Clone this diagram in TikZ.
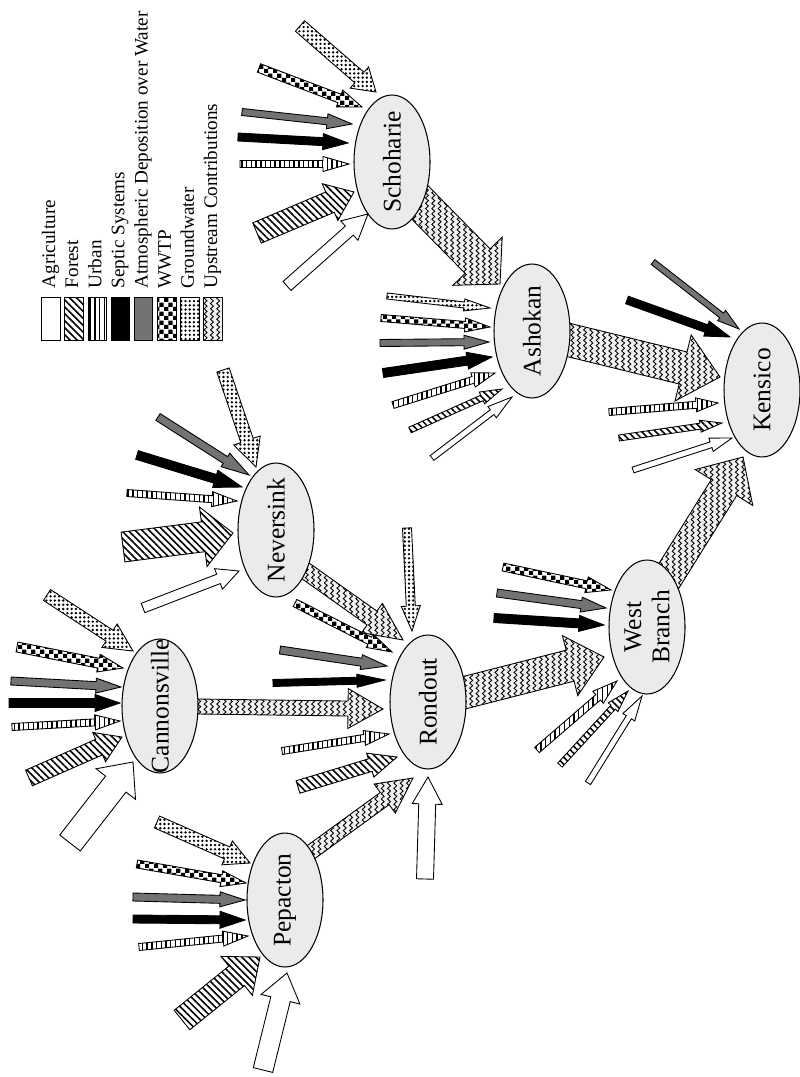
\documentclass[tikz,border=0pt]{standalone}
\usepackage{fontspec}
\setmainfont{Liberation Serif}
\usetikzlibrary{calc,shapes.geometric,patterns,patterns.meta}

\pgfdeclarelayer{background}
\pgfsetlayers{background,main}

\pgfdeclarepatternformonly{waves}{\pgfpoint{0pt}{-0.4pt}}{\pgfpoint{3.6pt}{3.4pt}}{\pgfpoint{3.6pt}{3pt}}{%
  \pgfsetlinewidth{0.5pt}%
  \pgfpathmoveto{\pgfpoint{1.8pt}{0pt}}%
  \pgfpathcurveto{\pgfpoint{2.9pt}{0.5pt}}{\pgfpoint{2.9pt}{1pt}}{\pgfpoint{1.8pt}{1.5pt}}%
  \pgfpathcurveto{\pgfpoint{0.7pt}{2pt}}{\pgfpoint{0.7pt}{2.5pt}}{\pgfpoint{1.8pt}{3pt}}%
  \pgfusepath{stroke}}
\pgfdeclarepatternformonly{checker}{\pgfpointorigin}{\pgfpoint{5.2pt}{5.2pt}}{\pgfpoint{5.2pt}{5.2pt}}{%
  \pgfpathrectangle{\pgfpointorigin}{\pgfpoint{2.6pt}{2.6pt}}%
  \pgfpathrectangle{\pgfpoint{2.6pt}{2.6pt}}{\pgfpoint{2.6pt}{2.6pt}}%
  \pgfusepath{fill}}

\tikzset{
  res/.style={ellipse, draw, fill=black!8, line width=0.6pt, inner sep=0pt,
    minimum width=1.52cm, minimum height=2.68cm},
  lbl/.style={rotate=90, font=\fontsize{14.5}{16}\selectfont, align=center},
  load/.style={draw, line width=0.5pt, line join=miter},
  agri/.style={load, fill=white},
  forest/.style={load, pattern={Lines[angle=-45, distance=2.8pt, line width=0.9pt]}},
  urban/.style={load, pattern={Lines[angle=90, distance=2.7pt, line width=0.8pt]}},
  septic/.style={load, fill=black},
  atmos/.style={load, fill=black!55},
  wwtp/.style={load, pattern=checker},
  ground/.style={load, pattern={Dots[distance=2.4pt, radius=0.75pt]}},
  upstream/.style={load, preaction={fill=black!6}, pattern=waves},
  key/.style={draw, line width=0.5pt, inner sep=0pt, minimum width=0.37cm, minimum height=0.86cm},
}

% style, tail, tip, shaft width, head width, head length
\newcommand{\flowarrow}[6]{%
  \coordinate (ft) at (#2);
  \coordinate (fh) at (#3);
  \coordinate (fb) at ($(fh)!#6*0.02cm!(ft)$);
  \draw[#1] (fh) -- ($(fb)!#5*0.01cm!90:(fh)$) -- ($(fb)!#4*0.01cm!90:(fh)$)
    -- ($(ft)!#4*0.01cm!90:(fh)$) -- ($(ft)!#4*0.01cm!-90:(fh)$)
    -- ($(fb)!#4*0.01cm!-90:(fh)$) -- ($(fb)!#5*0.01cm!-90:(fh)$) -- cycle;}

\begin{document}
\begin{tikzpicture}[x=0.02cm, y=0.02cm]
\useasboundingbox (0,0) rectangle (800,-1077);

\node[res, label={[lbl]center:Schoharie}] (sch) at (392,-162) {};
\node[res, label={[lbl]center:Ashokan}] (ash) at (532,-331) {};
\node[res, label={[lbl]center:Kensico}] (ken) at (762,-390) {};
\node[res, label={[lbl]center:Neversink}] (nev) at (276,-530) {};
\node[res, label={[lbl]center:Cannonsville}] (can) at (160,-706) {};
\node[res, label={[lbl]center:Rondout}] (ron) at (428,-702) {};
\node[res, label={[lbl]center:West\\Branch}] (wb) at (647,-627) {};
\node[res, label={[lbl]center:Pepacton}] (pep) at (285,-900) {};

\begin{pgfonlayer}{background}
\flowarrow{upstream}{$(sch)+(0,-12)$}{$(ash)+(-32,47)$}{35}{69}{32}
\flowarrow{upstream}{ash.center}{$(ken)+(-42,13)$}{33}{68}{38}
\flowarrow{upstream}{$(wb)+(-10,0)$}{$(ken)+(-19,-67)$}{30}{68}{36}
\flowarrow{upstream}{$(nev)+(0,-20)$}{$(ron)+(-25,62)$}{17}{36}{38}
\flowarrow{upstream}{can.center}{$(ron)+(-45,-7)$}{15}{40}{35}
\flowarrow{upstream}{$(pep)+(0,29)$}{$(ron)+(-15,-76)$}{15}{36}{35}
\flowarrow{upstream}{ron.center}{$(wb)+(-43,-30)$}{32}{62}{35}
\end{pgfonlayer}

\flowarrow{ground}{$(sch)+(-92,136)$}{$(sch)+(-16,70)$}{14}{28}{22}
\flowarrow{wwtp}{$(sch)+(-133,94)$}{$(sch)+(-30,55)$}{9}{18}{24}
\flowarrow{atmos}{$(sch)+(-150,50)$}{$(sch)+(-40,38)$}{7}{15}{25}
\flowarrow{septic}{$(sch)+(-154,25)$}{$(sch)+(-44,19)$}{8}{16}{25}
\flowarrow{urban}{$(sch)+(-152,-2)$}{$(sch)+(-43,-2)$}{7}{15}{26}
\flowarrow{forest}{$(sch)+(-135,-71)$}{$(sch)+(-38,-30)$}{22}{40}{26}
\flowarrow{agri}{$(sch)+(-105,-124)$}{$(sch)+(-24,-52)$}{12}{26}{25}

\flowarrow{ground}{$(ash)+(-145,35)$}{$(ash)+(-42,23)$}{6}{12}{26}
\flowarrow{wwtp}{$(ash)+(-151,13)$}{$(ash)+(-42,4)$}{7}{14}{25}
\flowarrow{atmos}{$(ash)+(-152,-12)$}{$(ash)+(-43,-11)$}{7}{14}{25}
\flowarrow{septic}{$(ash)+(-149,-42)$}{$(ash)+(-40,-26)$}{9}{17}{25}
\flowarrow{urban}{$(ash)+(-139,-74)$}{$(ash)+(-37,-42)$}{7}{15}{23}
\flowarrow{forest}{$(ash)+(-122,-99)$}{$(ash)+(-30,-58)$}{6}{13}{22}
\flowarrow{agri}{$(ash)+(-100,-127)$}{$(ash)+(-20,-66)$}{6}{14}{25}

\flowarrow{atmos}{$(ken)+(-109,128)$}{$(ken)+(-23,61)$}{6}{13}{22}
\flowarrow{septic}{$(ken)+(-135,90)$}{$(ken)+(-32,53)$}{8}{16}{25}
\flowarrow{urban}{$(ken)+(-153,-22)$}{$(ken)+(-44,-13)$}{7}{14}{22}
\flowarrow{forest}{$(ken)+(-143,-48)$}{$(ken)+(-40,-33)$}{6}{12}{22}
\flowarrow{agri}{$(ken)+(-129,-80)$}{$(ken)+(-30,-48)$}{6}{14}{22}

\flowarrow{wwtp}{$(wb)+(-144,60)$}{$(wb)+(-36,37)$}{8}{16}{25}
\flowarrow{atmos}{$(wb)+(-150,34)$}{$(wb)+(-41,19)$}{8}{15}{25}
\flowarrow{septic}{$(wb)+(-153,9)$}{$(wb)+(-43,2)$}{9}{16}{25}
\flowarrow{urban}{$(wb)+(-110,-123)$}{$(wb)+(-30,-54)$}{7}{16}{25}
\flowarrow{forest}{$(wb)+(-87,-138)$}{$(wb)+(-19,-64)$}{6}{13}{22}
\flowarrow{agri}{$(wb)+(-59,-156)$}{$(wb)+(-5,-69)$}{6}{14}{25}

\flowarrow{ground}{$(ron)+(-21,174)$}{$(ron)+(-16,71)$}{9}{19}{25}
\flowarrow{wwtp}{$(ron)+(-133,99)$}{$(ron)+(-36,50)$}{8}{15}{25}
\flowarrow{atmos}{$(ron)+(-148,52)$}{$(ron)+(-41,36)$}{8}{15}{26}
\flowarrow{septic}{$(ron)+(-155,19)$}{$(ron)+(-43,22)$}{7}{13}{28}
\flowarrow{urban}{$(ron)+(-146,-49)$}{$(ron)+(-39,-32)$}{7}{15}{25}
\flowarrow{forest}{$(ron)+(-130,-85)$}{$(ron)+(-31,-55)$}{13}{25}{28}
\flowarrow{agri}{$(ron)+(-3,-177)$}{$(ron)+(0,-75)$}{17}{30}{27}

\flowarrow{ground}{$(nev)+(-53,160)$}{$(nev)+(-20,63)$}{13}{28}{28}
\flowarrow{atmos}{$(nev)+(-118,113)$}{$(nev)+(-27,55)$}{8}{16}{28}
\flowarrow{septic}{$(nev)+(-139,75)$}{$(nev)+(-34,43)$}{9}{18}{28}
\flowarrow{urban}{$(nev)+(-149,37)$}{$(nev)+(-39,29)$}{7}{15}{25}
\flowarrow{forest}{$(nev)+(-153,-17)$}{$(nev)+(-43,-3)$}{30}{60}{30}
\flowarrow{agri}{$(nev)+(-133,-78)$}{$(nev)+(-37,-41)$}{10}{22}{22}

\flowarrow{ground}{$(can)+(-113,111)$}{$(can)+(-27,55)$}{13}{28}{28}
\flowarrow{wwtp}{$(can)+(-143,59)$}{$(can)+(-37,38)$}{10}{18}{25}
\flowarrow{atmos}{$(can)+(-149,25)$}{$(can)+(-39,19)$}{8}{15}{25}
\flowarrow{septic}{$(can)+(-151,3)$}{$(can)+(-40,3)$}{9}{17}{25}
\flowarrow{urban}{$(can)+(-148,-21)$}{$(can)+(-40,-15)$}{7}{15}{25}
\flowarrow{forest}{$(can)+(-131,-72)$}{$(can)+(-38,-31)$}{17}{32}{25}
\flowarrow{agri}{$(can)+(-90,-137)$}{$(can)+(-27,-56)$}{26}{50}{28}

\flowarrow{ground}{$(pep)+(-128,78)$}{$(pep)+(-35,37)$}{13}{26}{25}
\flowarrow{wwtp}{$(pep)+(-148,36)$}{$(pep)+(-39,17)$}{8}{16}{25}
\flowarrow{atmos}{$(pep)+(-152,3)$}{$(pep)+(-40,0)$}{8}{15}{25}
\flowarrow{septic}{$(pep)+(-152,-19)$}{$(pep)+(-40,-20)$}{8}{17}{25}
\flowarrow{urban}{$(pep)+(-146,-47)$}{$(pep)+(-37,-36)$}{7}{15}{25}
\flowarrow{forest}{$(pep)+(-103,-120)$}{$(pep)+(-25,-57)$}{25}{50}{30}
\flowarrow{agri}{$(pep)+(-22,-170)$}{$(pep)+(2,-73)$}{20}{40}{27}

\foreach \txt/\sty [count=\i from 0] in {Agriculture/agri, Forest/forest, Urban/urban,
    Septic Systems/septic, Atmospheric Deposition over Water/atmos, WWTP/wwtp,
    Groundwater/ground, Upstream Contributions/upstream} {
  \node[key, \sty] (key\i) at ({51+23.15*\i}, -318.5) {};
  \node[rotate=90, anchor=base west, inner sep=0pt, font=\fontsize{10.9}{13}\selectfont]
    (txt\i) at ($(key\i.north)+(4,8)$) {\txt};
}
\end{tikzpicture}
\end{document}
